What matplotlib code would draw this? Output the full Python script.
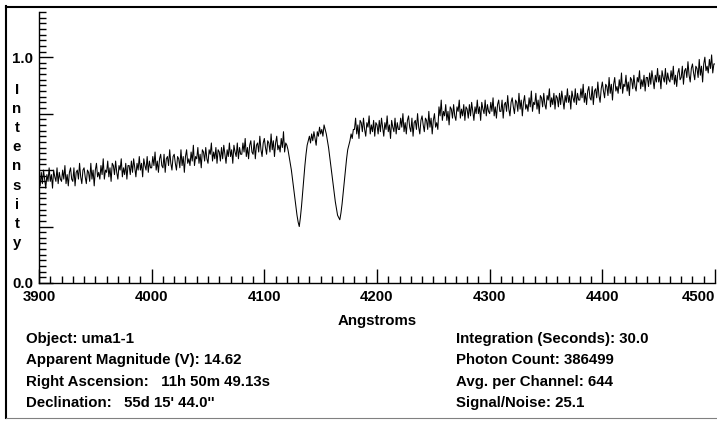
import matplotlib
matplotlib.use("Agg")
import matplotlib.pyplot as plt
import numpy as np
from matplotlib.ticker import MultipleLocator, FixedLocator, FuncFormatter
from matplotlib.lines import Line2D

# spectrum, one value per Angstrom (percent of full scale)
wave_start = 3900
wave_step = 1
intensity_pct = [
    47, 43, 49, 44, 50, 46, 42, 48, 45, 51, 45, 48, 42, 50, 47, 45, 51, 44, 49, 46,
    45, 50, 46, 52, 44, 48, 43, 49, 51, 46, 45, 51, 43, 49, 50, 46, 53, 47, 44, 50,
    51, 47, 44, 50, 49, 45, 53, 46, 50, 43, 50, 53, 47, 49, 46, 52, 48, 55, 46, 50,
    49, 54, 47, 51, 45, 53, 52, 48, 54, 49, 46, 52, 50, 55, 47, 51, 48, 53, 46, 52,
    52, 48, 54, 49, 55, 51, 47, 53, 50, 56, 50, 53, 47, 55, 52, 50, 56, 49, 54, 51,
    51, 56, 52, 58, 50, 54, 49, 55, 57, 52, 51, 57, 49, 55, 56, 52, 59, 53, 50, 56,
    57, 53, 50, 56, 55, 51, 59, 52, 56, 49, 56, 59, 53, 55, 52, 58, 54, 61, 52, 56,
    55, 60, 53, 57, 51, 59, 58, 54, 60, 55, 53, 59, 57, 62, 54, 58, 55, 60, 53, 59,
    58, 54, 60, 55, 61, 57, 53, 59, 56, 62, 56, 59, 53, 61, 58, 56, 62, 55, 60, 57,
    57, 62, 58, 64, 56, 60, 55, 61, 63, 58, 57, 63, 55, 61, 62, 58, 65, 59, 56, 62,
    64, 60, 57, 63, 62, 58, 66, 59, 63, 56, 62, 65, 59, 61, 58, 64, 60, 67, 58, 62,
    61, 59, 56, 53, 50, 46, 42, 38, 34, 30, 27, 25, 29, 34, 40, 46, 52, 57, 61, 63,
    65, 62, 66, 63, 67, 64, 61, 67, 65, 69, 66, 68, 65, 70, 68, 66, 63, 60, 56, 52,
    48, 44, 40, 36, 33, 30, 29, 28, 31, 35, 40, 45, 50, 55, 59, 61, 63, 66, 64, 68,
    68, 73, 66, 70, 64, 72, 71, 67, 73, 68, 65, 71, 69, 74, 66, 70, 67, 72, 65, 71,
    70, 66, 72, 67, 73, 69, 65, 71, 68, 74, 67, 70, 64, 72, 69, 67, 73, 66, 71, 68,
    68, 73, 69, 75, 67, 71, 66, 72, 74, 69, 67, 73, 65, 71, 72, 68, 75, 69, 66, 72,
    74, 70, 67, 73, 72, 68, 76, 69, 73, 66, 72, 75, 69, 71, 68, 78, 74, 81, 72, 76,
    74, 79, 72, 76, 70, 78, 77, 73, 79, 74, 72, 78, 76, 81, 73, 77, 74, 79, 72, 78,
    77, 73, 79, 74, 80, 76, 72, 78, 75, 81, 75, 78, 72, 80, 77, 75, 81, 74, 79, 76,
    75, 80, 76, 82, 74, 78, 73, 79, 81, 76, 76, 81, 73, 79, 80, 76, 83, 77, 74, 80,
    82, 78, 75, 81, 80, 76, 84, 77, 81, 74, 80, 83, 77, 79, 76, 82, 78, 85, 76, 80,
    79, 84, 77, 81, 75, 83, 82, 78, 84, 79, 77, 83, 81, 86, 78, 82, 79, 84, 77, 83,
    82, 78, 84, 79, 85, 81, 77, 83, 80, 86, 80, 83, 77, 85, 82, 80, 86, 79, 84, 81,
    81, 86, 82, 88, 80, 84, 79, 85, 87, 82, 81, 87, 79, 85, 86, 82, 89, 83, 80, 86,
    89, 85, 82, 88, 87, 83, 91, 84, 88, 81, 88, 91, 85, 87, 84, 90, 86, 93, 84, 88,
    87, 92, 85, 89, 83, 91, 90, 86, 92, 87, 85, 91, 89, 94, 86, 90, 87, 92, 85, 91,
    91, 87, 93, 88, 94, 90, 86, 92, 89, 95, 89, 92, 86, 94, 91, 89, 95, 88, 93, 90,
    89, 94, 90, 96, 88, 92, 87, 93, 95, 90, 91, 96, 88, 94, 95, 91, 98, 92, 89, 95,
    97, 93, 90, 96, 95, 91, 99, 92, 96, 89, 97, 100, 94, 96, 93, 99, 95, 101, 93, 97,
    97,
]

x_ticks = [3900, 4000, 4100, 4200, 4300, 4400, 4500]
y_labelled = [0.0, 1.0]
y_title = "Intensity"
x_title = "Angstroms"
info_left = [
    "Object: uma1-1",
    "Apparent Magnitude (V): 14.62",
    "Right Ascension:   11h 50m 49.13s",
    "Declination:   55d 15' 44.0''",
]
info_right = [
    "Integration (Seconds): 30.0",
    "Photon Count: 386499",
    "Avg. per Channel: 644",
    "Signal/Noise: 25.1",
]

plt.rcParams['font.family'] = ['Liberation Sans', 'DejaVu Sans']
plt.rcParams['font.weight'] = 'bold'
plt.rcParams['font.size'] = 10.8

W, H = 717, 421
fig = plt.figure(figsize=(W / 100, H / 100), dpi=100)
fig.patch.set_facecolor('white')

# axes box in pixel terms: x 39..715, y 12..283
ax = fig.add_axes([39 / W, 1 - 283 / H, (715 - 39) / W, (283 - 12) / H])
wave = wave_start + wave_step * np.arange(len(intensity_pct))
flux = np.array(intensity_pct) / 100.0
ax.plot(wave, flux, color='black', lw=0.75)

ax.set_xlim(3900, 4500)
ax.set_ylim(0, 1.2)
ax.spines['top'].set_visible(False)
ax.spines['right'].set_visible(False)
ax.spines['left'].set_linewidth(1)
ax.spines['bottom'].set_linewidth(1)

ax.xaxis.set_major_locator(FixedLocator(x_ticks))
ax.xaxis.set_minor_locator(MultipleLocator(10))
ax.yaxis.set_major_locator(MultipleLocator(0.25))
ax.yaxis.set_minor_locator(MultipleLocator(0.025))


def ylab(v, pos):
    for t in y_labelled:
        if abs(v - t) < 1e-6:
            return "%.1f" % t
    return ""


ax.yaxis.set_major_formatter(FuncFormatter(ylab))
ax.tick_params(which='major', direction='in', length=10, width=1, labelsize=10.8)
ax.tick_params(which='minor', direction='in', length=5, width=1)
ax.tick_params(axis='x', pad=5)
ax.tick_params(axis='y', pad=4)
for lab in ax.get_xticklabels():
    lab.set_fontweight('bold')
for lab in ax.get_yticklabels():
    lab.set_fontweight('bold')
ax.get_xticklabels()[-1].set_ha('right')

ax.set_xlabel(x_title, fontweight='bold', labelpad=7)

# stacked y title
for i, ch in enumerate(y_title):
    fig.text(17 / W, 1 - (90 + 19.1 * i) / H, ch, ha='center', va='center',
             fontweight='bold')

for i, s in enumerate(info_left):
    fig.text(26 / W, 1 - (339 + 21.3 * i) / H, s, ha='left', va='center',
             fontweight='bold')
for i, s in enumerate(info_right):
    fig.text(456 / W, 1 - (339 + 21.3 * i) / H, s, ha='left', va='center',
             fontweight='bold')

# window frame
fig.add_artist(Line2D([6.5 / W, 6.5 / W], [1 - 6 / H, 1 - 418 / H], color='black', lw=1.5))
fig.add_artist(Line2D([6 / W, 1], [1 - 7 / H, 1 - 7 / H], color='black', lw=1.5))
fig.add_artist(Line2D([6 / W, 1], [1 - 417.5 / H, 1 - 417.5 / H], color='#808080', lw=0.8))

fig.savefig("out.png", dpi=100)
